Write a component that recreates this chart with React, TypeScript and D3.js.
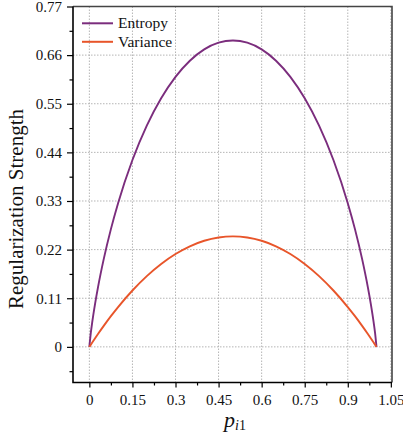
import React, { useEffect, useRef } from "react";
import * as d3 from "d3";

// p_i1 sample points and the two curves
const pValues = [0, 0.005, 0.01, 0.02, 0.03, 0.05, 0.075, 0.1, 0.15, 0.2, 0.25, 0.3, 0.35, 0.4, 0.45, 0.5,
  0.55, 0.6, 0.65, 0.7, 0.75, 0.8, 0.85, 0.9, 0.925, 0.95, 0.97, 0.98, 0.99, 0.995, 1];
const entropyValues = [0, 0.0315, 0.056, 0.098, 0.1347, 0.1985, 0.2664, 0.3251, 0.4227, 0.5004, 0.5623, 0.6109, 0.6474, 0.673, 0.6881, 0.6931,
  0.6881, 0.673, 0.6474, 0.6109, 0.5623, 0.5004, 0.4227, 0.3251, 0.2664, 0.1985, 0.1347, 0.098, 0.056, 0.0315, 0];
const varianceValues = [0, 0.005, 0.0099, 0.0196, 0.0291, 0.0475, 0.0694, 0.09, 0.1275, 0.16, 0.1875, 0.21, 0.2275, 0.24, 0.2475, 0.25,
  0.2475, 0.24, 0.2275, 0.21, 0.1875, 0.16, 0.1275, 0.09, 0.0694, 0.0475, 0.0291, 0.0196, 0.0099, 0.005, 0];

const seriesNames = ["Entropy", "Variance"];
const seriesColors = ["#7b2d7d", "#e8552a"];

const xTicks = [0, 0.15, 0.3, 0.45, 0.6, 0.75, 0.9, 1.05];
const xTickLabels = ["0", "0.15", "0.3", "0.45", "0.6", "0.75", "0.9", "1.05"];
const yTicks = [0, 0.11, 0.22, 0.33, 0.44, 0.55, 0.66, 0.77];
const yTickLabels = ["0", "0.11", "0.22", "0.33", "0.44", "0.55", "0.66", "0.77"];

const W = 403;
const H = 438;
const font = "Liberation Serif, serif";

export default function App() {
  const ref = useRef<SVGSVGElement>(null);

  useEffect(() => {
    const svg = d3.select(ref.current);
    svg.selectAll("*").remove();

    const left = 73, right = 392, top = 6.5, bottom = 382.5;
    const x = d3.scaleLinear().domain([-0.057, 1.054]).range([left, right]);
    const y = d3.scaleLinear().domain([-0.0806, 0.77]).range([bottom, top]);

    // grid
    const grid = svg.append("g").attr("stroke", "#b5b5b5").attr("stroke-width", 1).attr("stroke-dasharray", "1.5,1.5");
    xTicks.forEach((t) => {
      grid.append("line").attr("x1", x(t)).attr("x2", x(t)).attr("y1", top).attr("y2", bottom);
    });
    yTicks.forEach((t) => {
      grid.append("line").attr("x1", left).attr("x2", right).attr("y1", y(t)).attr("y2", y(t));
    });

    // top / right frame
    svg.append("path")
      .attr("d", `M${left},${top}H${right}V${bottom}`)
      .attr("fill", "none").attr("stroke", "#444").attr("stroke-width", 1.6);

    // axes
    const xAxis = d3.axisBottom(x).tickValues(xTicks).tickSize(5).tickPadding(7)
      .tickFormat((_d, i) => xTickLabels[i]);
    const xMinor = d3.axisBottom(x).tickValues(d3.range(0.075, 1.05, 0.15)).tickSize(3).tickFormat(() => "");
    const yAxis = d3.axisLeft(y).tickValues(yTicks).tickSize(6).tickPadding(5)
      .tickFormat((_d, i) => yTickLabels[i]);
    const yMinor = d3.axisLeft(y).tickValues([-0.055, ...yTicks.slice(0, -1).map((t) => t + 0.055)]).tickSize(3.5).tickFormat(() => "");

    const styleAxis = (g: any) => {
      g.attr("font-family", font).attr("font-size", 15);
      g.select(".domain").remove();
      g.selectAll("line").attr("stroke", "#000").attr("stroke-width", 1.2);
      g.selectAll("text").attr("fill", "#111");
    };

    svg.append("g").attr("transform", `translate(0,${bottom})`).call(xAxis).call(styleAxis);
    svg.append("g").attr("transform", `translate(0,${bottom})`).call(xMinor).call(styleAxis);
    svg.append("g").attr("transform", `translate(${left},0)`).call(yAxis).call(styleAxis);
    svg.append("g").attr("transform", `translate(${left},0)`).call(yMinor).call(styleAxis);

    svg.append("path")
      .attr("d", `M${left},${top}V${bottom}H${right}`)
      .attr("fill", "none").attr("stroke", "#000").attr("stroke-width", 1.6);

    // curves
    const line = d3.line<number>()
      .x((_d, i) => x(pValues[i]))
      .y((d) => y(d))
      .curve(d3.curveMonotoneX);
    [entropyValues, varianceValues].forEach((vals, k) => {
      svg.append("path").attr("d", line(vals)).attr("fill", "none")
        .attr("stroke", seriesColors[k]).attr("stroke-width", 1.9);
    });

    // legend
    seriesNames.forEach((name, k) => {
      const ly = 23.3 + k * 18.5;
      svg.append("line").attr("x1", 82).attr("x2", 113).attr("y1", ly).attr("y2", ly)
        .attr("stroke", seriesColors[k]).attr("stroke-width", 2);
      svg.append("text").attr("x", 118).attr("y", ly + 5).text(name)
        .attr("font-family", font).attr("font-size", 15.5).attr("fill", "#111");
    });

    // axis labels
    const xl = svg.append("text").attr("x", 235).attr("y", 426.5).attr("text-anchor", "middle")
      .attr("font-family", font).attr("fill", "#111");
    xl.append("tspan").text("p").attr("font-style", "italic").attr("font-size", 22);
    xl.append("tspan").text("i").attr("font-style", "italic").attr("font-size", 14).attr("dy", 3);
    xl.append("tspan").text("1").attr("font-size", 14);

    svg.append("text")
      .attr("transform", `translate(23,209) rotate(-90)`)
      .attr("text-anchor", "middle")
      .attr("font-family", font).attr("font-size", 21).attr("fill", "#111")
      .text("Regularization Strength");
  }, []);

  return (
    <svg ref={ref} width={W} height={H}
      style={{ position: "absolute", left: 0, top: 0, background: "#fff" }} />
  );
}
